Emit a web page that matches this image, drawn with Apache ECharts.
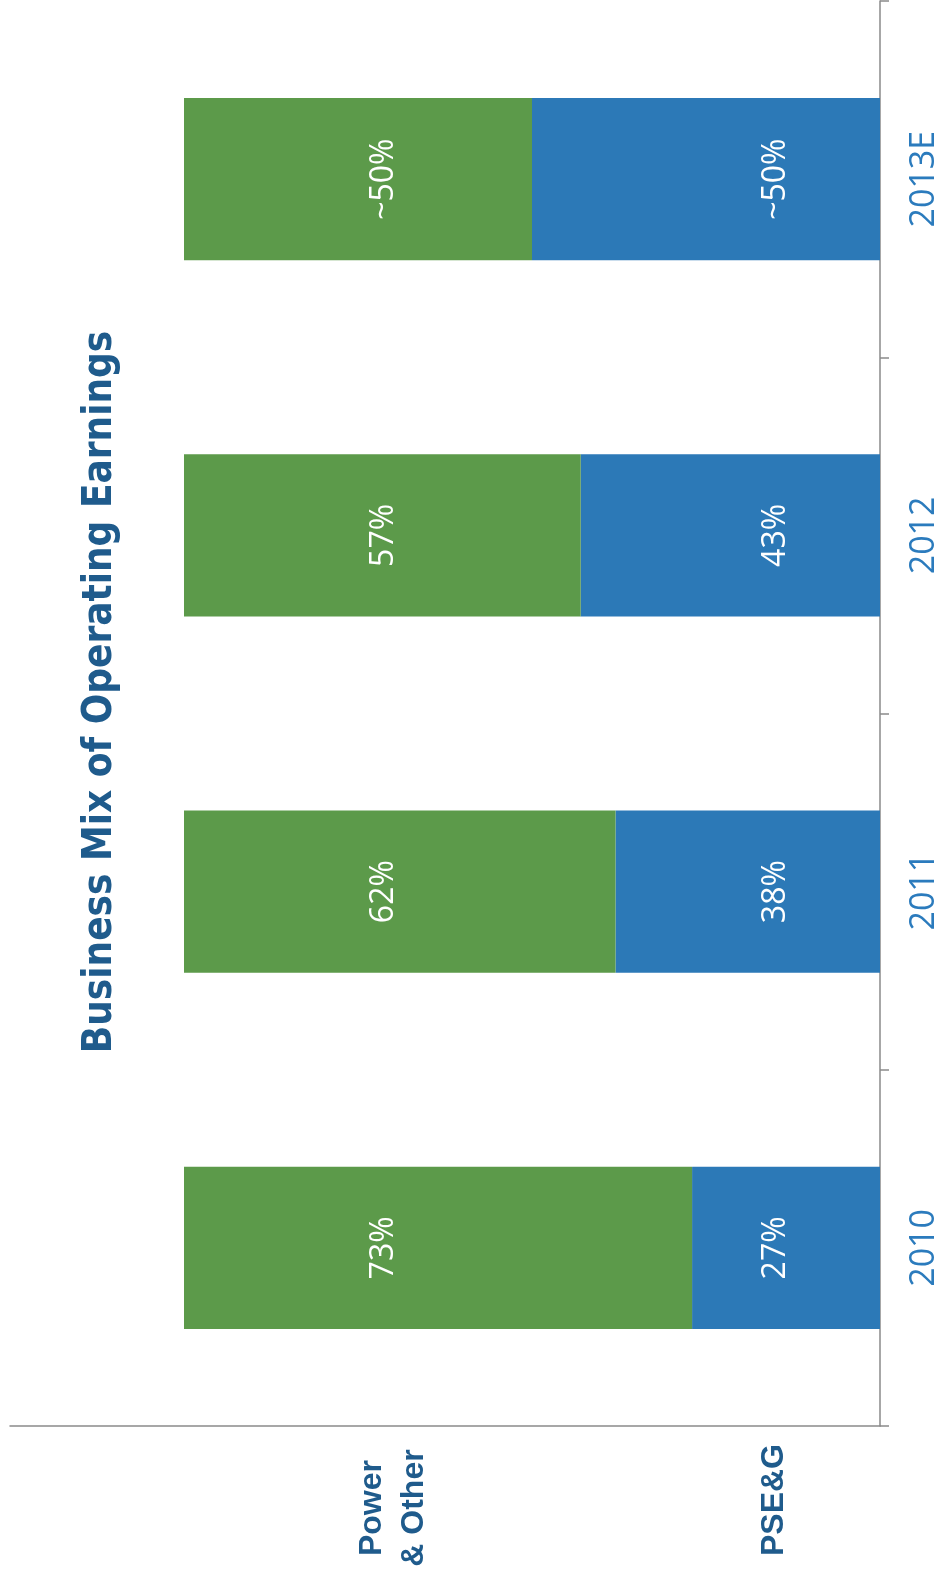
<!DOCTYPE html>
<html>
<head>
<meta charset="utf-8">
<script src="https://cdn.jsdelivr.net/npm/echarts@6/dist/echarts.min.js"></script>
<style>
html,body{margin:0;padding:0;background:#fff;}
#chart{width:945px;height:1579px;}
</style>
</head>
<body>
<div id="chart"></div>
<script>
// ---- data ----
const categories = ['2010', '2011', '2012', '2013E'];
const seriesNames = ['PSE&G', 'Power\n& Other'];
const pseValues = [27, 38, 43, 50];
const powerValues = [73, 62, 57, 50];
const titleText = 'Business Mix of Operating Earnings';

const BLUE = '#2c79b7';
const GREEN = '#5c9a4a';
const DARK = '#1f5b8c';
const YEAR = '#2b7bbd';

const fmt = p => (String(p.name).endsWith('E') ? '~' : '') + p.value + '%';

const chart = echarts.init(document.getElementById('chart'), null, {renderer: 'canvas'});
chart.setOption({
  backgroundColor: '#ffffff',
  animation: false,
  grid: {left: 10, right: 65, top: 1, bottom: 153, containLabel: false},
  xAxis: {
    type: 'value', min: 0, max: 125, inverse: true, position: 'bottom',
    axisLine: {show: true, onZero: false, lineStyle: {color: '#8a8a8a', width: 1.5}},
    axisTick: {show: false}, axisLabel: {show: false}, splitLine: {show: false}
  },
  yAxis: {
    type: 'category', data: categories, position: 'right',
    axisLine: {show: true, onZero: false, lineStyle: {color: '#8a8a8a', width: 1.5}},
    axisTick: {show: true, inside: false, length: 9, alignWithLabel: false, lineStyle: {color: '#8a8a8a', width: 1.5}},
    axisLabel: {show: true, rotate: 90, margin: 27, color: YEAR, fontSize: 34, fontFamily: 'Open Sans'},
    splitLine: {show: false}
  },
  series: [
    {
      name: seriesNames[0], type: 'bar', stack: 'total', data: pseValues,
      barWidth: '45.5%', itemStyle: {color: BLUE},
      label: {show: true, formatter: fmt, position: ['100%', '50%'], offset: [0, -104],
        align: 'center', verticalAlign: 'middle', rotate: 90,
        color: '#fff', fontSize: 32, fontFamily: 'Open Sans', textBorderWidth: 0}
    },
    {
      name: seriesNames[1], type: 'bar', stack: 'total', data: powerValues,
      barWidth: '45.5%', itemStyle: {color: GREEN},
      label: {show: true, formatter: fmt, position: [200, '50%'],
        align: 'center', verticalAlign: 'middle', rotate: 90,
        color: '#fff', fontSize: 32, fontFamily: 'Open Sans', textBorderWidth: 0}
    }
  ],
  graphic: [
    {type: 'text', x: 101, y: 692, rotation: Math.PI / 2,
      style: {text: titleText, fill: DARK, font: 'bold 40px "Liberation Sans Narrow", "DejaVu Sans Condensed", sans-serif', align: 'center', verticalAlign: 'middle'}},
    {type: 'text', x: 393, y: 1508, rotation: Math.PI / 2,
      style: {text: seriesNames[1], fill: DARK, font: 'bold 32px "Liberation Sans", Arial, sans-serif', align: 'center', verticalAlign: 'middle', lineHeight: 42}},
    {type: 'text', x: 774, y: 1500, rotation: Math.PI / 2,
      style: {text: seriesNames[0], fill: DARK, font: 'bold 32px "Liberation Sans", Arial, sans-serif', align: 'center', verticalAlign: 'middle'}}
  ]
});
</script>
</body>
</html>
